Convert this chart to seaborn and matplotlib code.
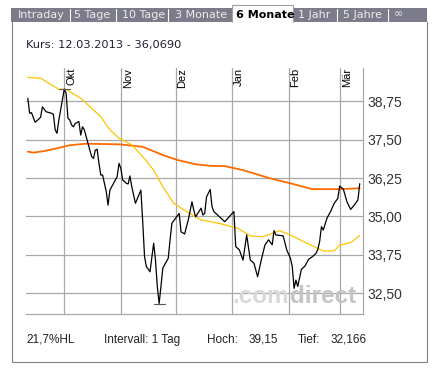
import pandas as pd
import matplotlib
matplotlib.use("Agg")
import matplotlib.pyplot as plt
from matplotlib.lines import Line2D
from matplotlib.patches import Rectangle
import seaborn as sns

sns.set_style("white")
plt.rcParams['font.family'] = ['Liberation Sans', 'DejaVu Sans']

# Kurs (Tageswerte)
kurs_datum = [
    "2012-09-11", "2012-09-12", "2012-09-13", "2012-09-15", "2012-09-17", "2012-09-18",
    "2012-09-19", "2012-09-21", "2012-09-24", "2012-09-25", "2012-09-26", "2012-09-27",
    "2012-09-28", "2012-09-29", "2012-10-01", "2012-10-02", "2012-10-03", "2012-10-04",
    "2012-10-05", "2012-10-06", "2012-10-07", "2012-10-09", "2012-10-10", "2012-10-11",
    "2012-10-12", "2012-10-13", "2012-10-14", "2012-10-15", "2012-10-16", "2012-10-17",
    "2012-10-18", "2012-10-19", "2012-10-20", "2012-10-21", "2012-10-22", "2012-10-23",
    "2012-10-24", "2012-10-25", "2012-10-26", "2012-10-28", "2012-10-30", "2012-10-31",
    "2012-11-01", "2012-11-02", "2012-11-04", "2012-11-05", "2012-11-06", "2012-11-07",
    "2012-11-09", "2012-11-12", "2012-11-13", "2012-11-14", "2012-11-15", "2012-11-17",
    "2012-11-19", "2012-11-20", "2012-11-21", "2012-11-22", "2012-11-23", "2012-11-24",
    "2012-11-27", "2012-11-28", "2012-11-29", "2012-12-01", "2012-12-03", "2012-12-04",
    "2012-12-06", "2012-12-07", "2012-12-08", "2012-12-10", "2012-12-11", "2012-12-12",
    "2012-12-15", "2012-12-16", "2012-12-17", "2012-12-18", "2012-12-20", "2012-12-21",
    "2012-12-22", "2012-12-28", "2013-01-02", "2013-01-03", "2013-01-05", "2013-01-07",
    "2013-01-09", "2013-01-11", "2013-01-13", "2013-01-15", "2013-01-17", "2013-01-19",
    "2013-01-21", "2013-01-23", "2013-01-24", "2013-01-25", "2013-01-29", "2013-01-31",
    "2013-02-02", "2013-02-03", "2013-02-04", "2013-02-05", "2013-02-06", "2013-02-08",
    "2013-02-10", "2013-02-12", "2013-02-14", "2013-02-16", "2013-02-17", "2013-02-18",
    "2013-02-19", "2013-02-20", "2013-02-22", "2013-02-24", "2013-02-26", "2013-02-28",
    "2013-03-01", "2013-03-03", "2013-03-05", "2013-03-07", "2013-03-09", "2013-03-11",
    "2013-03-12",
]
kurs_werte = [
    38.85, 38.36, 38.38, 38.07, 38.17, 38.23,
    38.57, 38.41, 38.36, 38.33, 37.82, 37.71,
    38.14, 38.47, 39.15, 39.01, 38.20, 38.14,
    37.98, 37.92, 38.03, 38.09, 37.65, 37.92,
    37.82, 37.60, 37.38, 37.16, 36.95, 36.89,
    37.16, 37.19, 36.73, 36.35, 36.35, 36.08,
    35.81, 35.37, 35.86, 36.08, 36.30, 36.73,
    36.57, 36.19, 36.08, 36.06, 36.32, 35.97,
    35.43, 35.86, 34.83, 33.69, 33.37, 33.20,
    34.13, 33.58, 32.72, 32.166, 32.72, 33.32,
    33.64, 34.24, 34.78, 34.94, 35.10, 34.50,
    34.43, 34.67, 34.89, 35.48, 35.21, 34.99,
    35.27, 35.05, 35.10, 35.64, 35.88, 35.32,
    35.16, 34.83, 35.16, 34.02, 33.91, 33.58,
    34.40, 33.58, 33.48, 33.04, 33.58, 34.07,
    34.24, 34.08, 34.54, 34.40, 34.37, 33.91,
    33.64, 33.37, 32.66, 32.93, 32.72, 33.28,
    33.39, 33.61, 33.69, 33.80, 33.93, 34.18,
    34.67, 34.56, 34.94, 35.16, 35.43, 35.59,
    35.99, 35.89, 35.48, 35.23, 35.37, 35.54,
    36.069,
]

# Gleitender Durchschnitt lang (orange)
gd_lang_datum = [
    "2012-09-11", "2012-09-14", "2012-09-20", "2012-09-27", "2012-10-04", "2012-10-13",
    "2012-10-31", "2012-11-13", "2012-11-24", "2012-12-02", "2012-12-12", "2012-12-20",
    "2012-12-28", "2013-01-07", "2013-01-22", "2013-02-02", "2013-02-14", "2013-03-01",
    "2013-03-12",
]
gd_lang_werte = [
    37.11, 37.08, 37.13, 37.22, 37.32, 37.37,
    37.35, 37.27, 37.00, 36.84, 36.70, 36.65,
    36.64, 36.51, 36.24, 36.08, 35.89, 35.89,
    35.92,
]

# Gleitender Durchschnitt kurz (gelb)
gd_kurz_datum = [
    "2012-09-11", "2012-09-18", "2012-09-28", "2012-10-02", "2012-10-10", "2012-10-21",
    "2012-10-26", "2012-10-31", "2012-11-07", "2012-11-13", "2012-11-19", "2012-11-24",
    "2012-11-30", "2012-12-07", "2012-12-15", "2012-12-26", "2013-01-04", "2013-01-11",
    "2013-01-18", "2013-01-27", "2013-02-02", "2013-02-11", "2013-02-20", "2013-02-26",
    "2013-03-01", "2013-03-07", "2013-03-12",
]
gd_kurz_werte = [
    39.53, 39.50, 39.14, 39.14, 38.85, 38.25,
    37.82, 37.55, 37.33, 36.95, 36.51, 35.97,
    35.43, 35.16, 34.89, 34.76, 34.62, 34.37,
    34.34, 34.54, 34.40, 34.13, 33.88, 33.88,
    34.07, 34.15, 34.38,
]

monate = ["2012-10-01", "2012-11-01", "2012-12-01", "2013-01-01", "2013-02-01", "2013-03-01"]
monat_labels = ["Okt", "Nov", "Dez", "Jan", "Feb", "Mär"]
y_ticks = [32.5, 33.75, 35.0, 36.25, 37.5, 38.75]
tabs = ["Intraday", "5 Tage", "10 Tage", "3 Monate", "6 Monate", "1 Jahr", "5 Jahre", "∞"]

W, H = 438, 369
GRID = '#a8a8a8'


def fx(x):
    return x / W


def fy(y):
    return 1 - y / H


fig = plt.figure(figsize=(W / 100, H / 100), dpi=100)
fig.patch.set_facecolor('white')

# Reiterleiste oben
fig.add_artist(Rectangle((fx(11), fy(22)), (427 - 11) / W, 14 / H,
                         transform=fig.transFigure, color='#7b7b89', lw=0))
for xs in [70, 116, 168.3, 336.7, 388.3]:
    fig.add_artist(Line2D([fx(xs), fx(xs)], [fy(8.5), fy(22)], transform=fig.transFigure,
                          color='white', lw=0.8))
fig.add_artist(Rectangle((fx(231.7), fy(22.5)), 61 / W, 18.5 / H,
                         transform=fig.transFigure, color='white', lw=0))
fig.add_artist(Line2D([fx(231.7), fx(231.7), fx(292.7), fx(292.7)],
                      [fy(22), fy(4.5), fy(4.5), fy(22)],
                      transform=fig.transFigure, color='#a0a0a0', lw=0.8))
tab_x = [18.3, 74, 121.7, 175, 236, 297.7, 342.7, 393.3]
for t, xs in zip(tabs, tab_x):
    aktiv = t == "6 Monate"
    fig.text(fx(xs), fy(14.5), t, family='DejaVu Sans', fontsize=8,
             fontweight='bold' if aktiv else 'normal',
             color='black' if aktiv else '#eeeeee', ha='left', va='center')

# Rahmen
fig.add_artist(Line2D([fx(11.5), fx(11.5), fx(427), fx(427)],
                      [fy(22), fy(361.5), fy(361.5), fy(22)],
                      transform=fig.transFigure, color='#808080', lw=0.8))

fig.text(fx(26.5), fy(45), "Kurs: 12.03.2013 - 36,0690", family='DejaVu Sans',
         fontsize=8.2, color='#202030', ha='left', va='center')

# Chartbereich
ax = fig.add_axes([fx(26), fy(314), (363 - 26) / W, (314 - 68) / H])

df_kurs = pd.DataFrame({'Datum': pd.to_datetime(kurs_datum), 'Kurs': kurs_werte})
df_lang = pd.DataFrame({'Datum': pd.to_datetime(gd_lang_datum), 'Kurs': gd_lang_werte})
df_kurz = pd.DataFrame({'Datum': pd.to_datetime(gd_kurz_datum), 'Kurs': gd_kurz_werte})

sns.lineplot(data=df_lang, x='Datum', y='Kurs', color='#ff6a00', lw=1.3, ax=ax, zorder=2)
sns.lineplot(data=df_kurz, x='Datum', y='Kurs', color='#ffc400', lw=0.9, ax=ax, zorder=2)
sns.lineplot(data=df_kurs, x='Datum', y='Kurs', color='black', lw=0.9, ax=ax, zorder=3)

# Markierung Hoch / Tief
hoch = df_kurs['Kurs'].max()
tief = df_kurs['Kurs'].min()
for wert in [hoch, tief]:
    d = df_kurs.loc[df_kurs['Kurs'] == wert, 'Datum'].iloc[0]
    ax.plot([d - pd.Timedelta(days=3), d + pd.Timedelta(days=3)], [wert, wert],
            color='#555555', lw=0.8, zorder=3)

ax.set_xlim(pd.Timestamp("2012-09-10"), pd.Timestamp("2013-03-13 19:00"))
ax.set_ylim(31.826, 39.834)
ax.set_xlabel('')
ax.set_ylabel('')

ax.set_xticks(pd.to_datetime(monate))
ax.set_xticklabels([])
ax.set_yticks(y_ticks)
ax.set_yticklabels([f"{v:.2f}".replace('.', ',') for v in y_ticks])
ax.yaxis.tick_right()
ax.tick_params(axis='both', length=0)
ax.tick_params(axis='y', labelsize=10, labelcolor='#333333', pad=3.5)
ax.grid(True, color=GRID, lw=0.9)
ax.set_axisbelow(True)
for s in ['left', 'top']:
    ax.spines[s].set_visible(False)
for s in ['right', 'bottom']:
    ax.spines[s].set_color(GRID)
    ax.spines[s].set_linewidth(0.9)

for m, lbl in zip(pd.to_datetime(monate), monat_labels):
    ax.annotate(lbl, xy=(m, 1), xycoords=('data', 'axes fraction'), xytext=(2, 0),
                textcoords='offset pixels', rotation=90, ha='left', va='top',
                fontsize=8, color='black')

# Wasserzeichen
ax.text(fx(232.7), fy(302.7), ".com", transform=fig.transFigure, fontsize=17.5,
        fontweight='bold', color='#d8d8d8', ha='left', va='baseline', zorder=1)
ax.text(fx(290), fy(302.7), "direct", transform=fig.transFigure, fontsize=17.5,
        fontweight='bold', color='#c4c4c4', ha='left', va='baseline', zorder=1)

# Fusszeile
hl = (hoch - tief) / tief * 100
fig.text(fx(26), fy(340), f"{hl:.1f}%HL".replace('.', ','), fontsize=8.5, color='#222222',
         va='center', ha='left')
fig.text(fx(104.3), fy(340), "Intervall: 1 Tag", fontsize=8.5, color='#222222',
         va='center', ha='left')
fig.text(fx(207.3), fy(340), "Hoch:", fontsize=8.5, color='#222222', va='center', ha='left')
fig.text(fx(248.3), fy(340), f"{hoch:.2f}".replace('.', ','), fontsize=8.5, color='#222222',
         va='center', ha='left')
fig.text(fx(297.7), fy(340), "Tief:", fontsize=8.5, color='#222222', va='center', ha='left')
fig.text(fx(331), fy(340), f"{tief:.3f}".replace('.', ','), fontsize=8.5, color='#222222',
         va='center', ha='left')

fig.savefig("out.png", dpi=100)
